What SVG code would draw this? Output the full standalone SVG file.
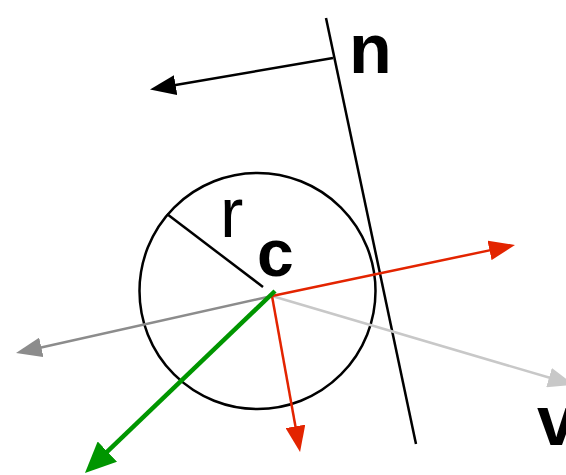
<svg xmlns="http://www.w3.org/2000/svg" width="566" height="475" viewBox="0 0 566 475">
<style>
.lbl{font-family:"Liberation Sans",Arial,sans-serif;fill:#000}
.b{font-weight:bold}
.ln{fill:none;stroke-width:2.5;stroke-linecap:butt}
.thick{stroke-width:4.5}
</style>
<defs>
<marker id="mk" viewBox="0 -10 26 20" refX="6" refY="0" markerWidth="26" markerHeight="20" markerUnits="userSpaceOnUse" orient="auto"><path d="M0,-10 L26,0 L0,10 z" fill="#000"/></marker>
<marker id="mg" viewBox="0 -10 26 20" refX="6" refY="0" markerWidth="26" markerHeight="20" markerUnits="userSpaceOnUse" orient="auto"><path d="M0,-10 L26,0 L0,10 z" fill="#8c8c8c"/></marker>
<marker id="ml" viewBox="0 -10 26 20" refX="6" refY="0" markerWidth="26" markerHeight="20" markerUnits="userSpaceOnUse" orient="auto"><path d="M0,-10 L26,0 L0,10 z" fill="#c8c8c8"/></marker>
<marker id="mr" viewBox="0 -10 26 20" refX="6" refY="0" markerWidth="26" markerHeight="20" markerUnits="userSpaceOnUse" orient="auto"><path d="M0,-10 L26,0 L0,10 z" fill="#e32400"/></marker>
<marker id="mgr" viewBox="0 -14 31 28" refX="7" refY="0" markerWidth="31" markerHeight="28" markerUnits="userSpaceOnUse" orient="auto"><path d="M0,-14 L31,0 L0,14 z" fill="#009600"/></marker>
</defs>
<g id="circle"><circle cx="257.5" cy="291" r="118" fill="none" stroke="#000" stroke-width="2.5"/></g>
<g id="plane"><line x1="326" y1="18" x2="416" y2="444" stroke="#000" stroke-width="2.5"/></g>
<g id="labels">
<text class="lbl b" x="349" y="73" font-size="70">n</text>
<text class="lbl" x="220" y="237" font-size="70">r</text>
<text class="lbl b" x="257" y="276" font-size="66">c</text>
<text class="lbl b" x="537" y="445" font-size="70">v</text>
</g>
<g id="connectors">
<line class="ln" x1="167" y1="214" x2="263" y2="287" stroke="#000"/>
<line class="ln" x1="333" y1="58" x2="169.7" y2="86.1" stroke="#000" marker-end="url(#mk)"/>
<line class="ln" x1="272" y1="296" x2="35.5" y2="348.7" stroke="#8c8c8c" marker-end="url(#mg)"/>
<line class="ln" x1="272" y1="296" x2="554.8" y2="379.3" stroke="#c8c8c8" marker-end="url(#ml)"/>
<line class="ln" x1="272" y1="296" x2="495.4" y2="249.1" stroke="#e32400" marker-end="url(#mr)"/>
<line class="ln" x1="272" y1="296" x2="296.5" y2="432.3" stroke="#e32400" marker-end="url(#mr)"/>
<line class="ln thick" x1="275" y1="291" x2="102.3" y2="456.4" stroke="#009600" marker-end="url(#mgr)"/>
</g>
</svg>
